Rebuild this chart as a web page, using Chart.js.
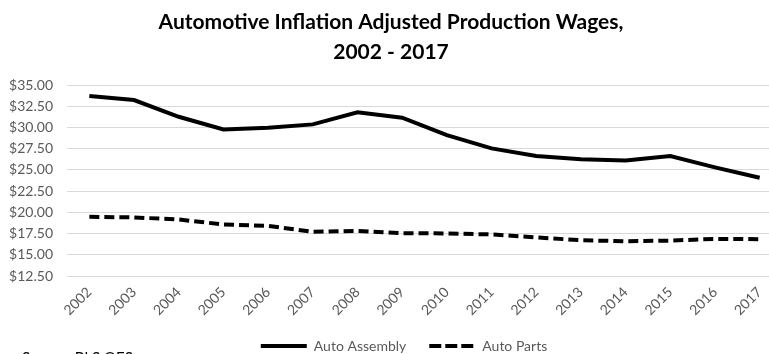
<!DOCTYPE html>
<html>
<head>
<meta charset="utf-8">
<script src="https://cdn.jsdelivr.net/npm/chart.js@4.4.1/dist/chart.umd.min.js"></script>
<style>
  html, body { margin: 0; padding: 0; background: #fff; overflow: hidden; }
  #wrap { width: 790px; height: 354px; position: relative; }
</style>
</head>
<body>
<div id="wrap"><canvas id="grafico" width="790" height="354"></canvas></div>
<script>
// Anos e salários de produção ajustados pela inflação (US$ por hora)
const anos = ['2002', '2003', '2004', '2005', '2006', '2007', '2008', '2009',
              '2010', '2011', '2012', '2013', '2014', '2015', '2016', '2017'];
const montagem = [33.70, 33.23, 31.26, 29.77, 29.97, 30.36, 31.78, 31.15,
                  29.10, 27.53, 26.63, 26.24, 26.12, 26.63, 25.29, 24.07];
const pecas = [19.47, 19.40, 19.16, 18.57, 18.41, 17.70, 17.82, 17.55,
               17.51, 17.40, 17.05, 16.71, 16.60, 16.67, 16.87, 16.84];
const titulo = ['Automotive Inflation Adjusted Production Wages,', '2002 - 2017'];
const fonte = 'Source: BLS OES';

Chart.defaults.font.family = 'Lato, "Open Sans", sans-serif';

// Texto da fonte no rodapé
const rodape = {
  id: 'rodape',
  afterDraw(chart) {
    const ctx = chart.ctx;
    ctx.save();
    ctx.font = '15px Lato, sans-serif';
    ctx.fillStyle = '#000';
    ctx.textAlign = 'left';
    ctx.textBaseline = 'alphabetic';
    ctx.fillText(fonte, 22, 363);
    ctx.restore();
  }
};

// Desloca a legenda um pouco para a direita
const moveLegenda = {
  id: 'moveLegenda',
  afterLayout(chart) {
    if (chart.legend) {
      chart.legend.left += 13;
      chart.legend.right += 13;
    }
  }
};

const ctx = document.getElementById('grafico').getContext('2d');
new Chart(ctx, {
  type: 'line',
  data: {
    labels: anos,
    datasets: [{
      label: 'Auto Assembly',
      data: montagem,
      borderColor: '#000',
      backgroundColor: '#000',
      borderWidth: 4,
      pointRadius: 0,
      tension: 0,
      fill: false
    }, {
      label: 'Auto Parts',
      data: pecas,
      borderColor: '#000',
      backgroundColor: '#000',
      borderWidth: 4,
      borderDash: [10, 5],
      borderCapStyle: 'butt',
      pointRadius: 0,
      tension: 0,
      fill: false
    }]
  },
  options: {
    responsive: false,
    animation: false,
    layout: { padding: { left: 0, right: 8, top: 0, bottom: -9 } },
    plugins: {
      title: {
        display: true,
        text: titulo,
        color: '#000',
        font: { size: 21, weight: 'bold', lineHeight: 30 / 21 },
        padding: { top: 7, bottom: 18 }
      },
      legend: {
        position: 'bottom',
        labels: {
          usePointStyle: true,
          pointStyle: 'line',
          pointStyleWidth: 46,
          padding: 23,
          color: '#595959',
          font: { size: 14 },
          // o estilo de ponto não traz o tracejado da linha, então copia do dataset
          generateLabels(chart) {
            const itens = Chart.defaults.plugins.legend.labels.generateLabels(chart);
            itens.forEach(item => {
              const ds = chart.data.datasets[item.datasetIndex];
              item.lineDash = ds.borderDash ? [12, 4] : [];
              item.lineWidth = ds.borderWidth;
              item.lineCap = 'butt';
            });
            return itens;
          }
        }
      },
      tooltip: { enabled: false }
    },
    scales: {
      x: {
        offset: true,
        grid: { display: false, drawTicks: false },
        border: { display: false },
        ticks: {
          color: '#595959',
          font: { size: 14 },
          minRotation: 45,
          maxRotation: 45,
          padding: 8
        },
        afterFit(scale) { scale.height = 40; }
      },
      y: {
        min: 12.5,
        max: 35,
        grid: { color: '#d9d9d9', lineWidth: 1, drawTicks: false },
        border: { display: false },
        ticks: {
          stepSize: 2.5,
          color: '#595959',
          font: { size: 14 },
          padding: 14,
          callback: v => '$' + v.toFixed(2)
        },
        afterFit(scale) { scale.width = 67; }
      }
    }
  },
  plugins: [rodape, moveLegenda]
});
</script>
</body>
</html>
